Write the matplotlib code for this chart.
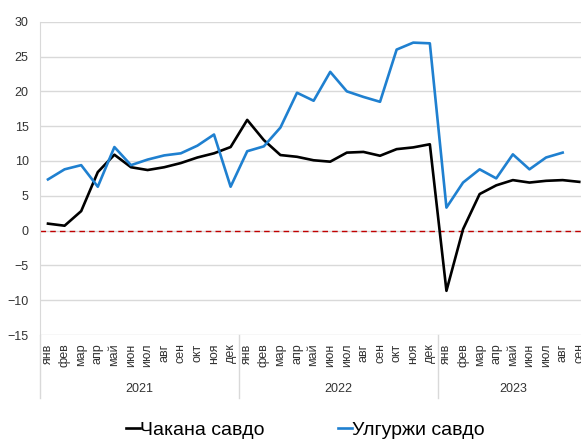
import numpy as np
import matplotlib
matplotlib.use('Agg')
import matplotlib.pyplot as plt
import matplotlib.transforms as mtransforms

plt.rcParams['font.family'] = ['Liberation Sans', 'DejaVu Sans']

months = ['янв', 'фев', 'мар', 'апр', 'май', 'июн', 'июл', 'авг', 'сен', 'окт', 'ноя', 'дек']
years = ['2021', '2022', '2023']
n_months_2023 = 9

# Чакана савдо (retail)
retail = [1.0, 0.7, 2.8, 8.4, 10.9, 9.1, 8.7, 9.1, 9.7, 10.5, 11.1, 12.0,
          15.9, 13.0, 10.85, 10.6, 10.1, 9.9, 11.2, 11.3, 10.75, 11.7, 11.95, 12.4,
          -8.65, 0.2, 5.25, 6.5, 7.25, 6.9, 7.15, 7.25, 7.0]
# Улгуржи савдо (wholesale), no value for Sep 2023
wholesale = [7.35, 8.8, 9.4, 6.3, 12.0, 9.4, 10.2, 10.8, 11.1, 12.2, 13.8, 6.3,
             11.4, 12.1, 14.8, 19.8, 18.65, 22.8, 20.0, 19.2, 18.5, 26.0, 27.0, 26.9,
             3.3, 6.9, 8.8, 7.5, 10.95, 8.8, 10.5, 11.2, np.nan]

labels = months * 2 + months[:n_months_2023]
x = np.arange(len(labels))

fig = plt.figure(figsize=(5.81, 4.40), dpi=100)
ax = fig.add_axes([0.0683, 0.2386, 0.943, 0.712])

ax.plot(x, retail, color='black', lw=1.9, label='Чакана савдо', zorder=3)
ax.plot(x, wholesale, color='#1f80d0', lw=1.9, label='Улгуржи савдо', zorder=3)
ax.axhline(0, color='#c00000', lw=1.0, ls=(0, (4, 3)), zorder=2)

ax.set_xlim(-0.5, len(labels) - 0.5)
ax.set_ylim(-15, 30)
ax.set_yticks(np.arange(-15, 31, 5))
ax.yaxis.grid(True, color='#d9d9d9', lw=1.0)
ax.set_axisbelow(True)
ax.set_xticks([])
ax.tick_params(axis='y', length=0, pad=8, labelsize=9, labelcolor='#333333')
for s in ['top', 'right', 'bottom']:
    ax.spines[s].set_visible(False)
ax.spines['left'].set_color('#d9d9d9')

trans = mtransforms.blended_transform_factory(ax.transData, ax.transAxes)
for i, m in enumerate(labels):
    ax.text(i, -0.027, m, rotation=90, ha='center', va='top', fontsize=9,
            color='#333333', transform=trans)

starts = [0, 12, 24]
ends = [12, 24, len(labels)]
for y, s, e in zip(years, starts, ends):
    ax.text((s + e - 1) / 2, -0.172, y,
            ha='center', va='center', fontsize=9, color='#333333', transform=trans)
for b in [-0.5, 11.5, 23.5]:
    ax.plot([b, b], [0, -0.201], color='#d9d9d9', lw=1.0, transform=trans, clip_on=False)

fig.legend(loc='center', bbox_to_anchor=(0.526, 0.023), ncol=2, frameon=False,
           fontsize=14, handlelength=0.7, handletextpad=0.0, columnspacing=3.8)

fig.savefig('out.png', dpi=100)
